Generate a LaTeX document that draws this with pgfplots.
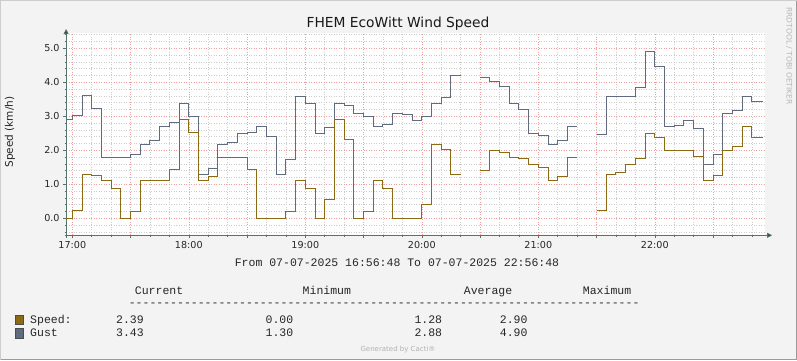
\documentclass[border=0pt]{standalone}
\usepackage{fontspec}
\setmainfont{DejaVu Sans}
\newfontfamily\monofont{Liberation Mono}
\usepackage{pgfplots}
\pgfplotsset{compat=1.18}
\usetikzlibrary{arrows.meta}
\definecolor{speedcol}{RGB}{140,106,20}
\definecolor{gustcol}{RGB}{96,108,126}
\definecolor{bgcol}{RGB}{243,243,243}
\definecolor{majgrid}{RGB}{238,160,160}
\definecolor{mingrid}{RGB}{205,205,205}
\definecolor{axiscol}{RGB}{85,115,105}
\definecolor{arrowcol}{RGB}{40,80,65}
\definecolor{lightborder}{RGB}{205,205,205}
\definecolor{darkborder}{RGB}{155,155,155}
\begin{document}
\begin{tikzpicture}[x=1pt,y=1pt]
\useasboundingbox (0,0) rectangle (797,360);
\fill[bgcol] (0,0) rectangle (797,360);
\draw[lightborder, line width=1pt] (0.5,0.5) -- (0.5,359.5) -- (796.5,359.5);
\draw[darkborder, line width=1pt] (0.5,0.5) -- (796.5,0.5) -- (796.5,359.5);

\begin{axis}[
  anchor=south west, at={(66.1pt,124.7pt)},
  x=1.9417pt, y=34pt,
  xmin=-3.2, xmax=356.8, ymin=-0.5, ymax=5.45,
  axis background/.style={fill=white},
  axis x line=bottom, axis y line=left,
  axis line style={draw=axiscol, line width=0.8pt},
  every outer x axis line/.append style={-{Triangle[length=5pt,width=5pt,fill=arrowcol]}, shorten >=-7pt, shorten <=-1.5pt},
  every outer y axis line/.append style={-{Triangle[length=5pt,width=5pt,fill=arrowcol]}, shorten >=-4pt, shorten <=-3pt},
  xtick={0,30,60,90,120,150,180,210,240,270,300,330},
  xticklabels={17:00,{},18:00,{},19:00,{},20:00,{},21:00,{},22:00,{}},
  minor xtick={10,20,40,50,70,80,100,110,130,140,160,170,190,200,220,230,250,260,280,290,310,320,340,350},
  ytick={0,1,2,3,4,5},
  yticklabels={0.0,1.0,2.0,3.0,4.0,5.0},
  minor ytick={-0.4,-0.2,0.2,0.4,0.6,0.8,1.2,1.4,1.6,1.8,2.2,2.4,2.6,2.8,3.2,3.4,3.6,3.8,4.2,4.4,4.6,4.8,5.2,5.4},
  grid=both,
  major grid style={majgrid, line width=0.5pt, dash pattern=on 1pt off 1.5pt},
  minor grid style={mingrid, line width=0.5pt, dash pattern=on 1pt off 1.5pt},
  tick align=outside,
  major tick length=3pt, minor tick length=1.5pt,
  tick style={axiscol, line width=0.6pt},
  ticklabel style={font=\fontsize{9.6}{11}\selectfont, text=black!85},
  unbounded coords=jump,
]
\addplot[const plot, gustcol, line width=1pt] coordinates {
(-3.2,2.9) (0,3.03) (5,3.6) (10,3.24) (15,1.8) (20,1.8) (25,1.8) (30,1.88) (35,2.18) (40,2.29)
(45,2.71) (50,2.82) (55,3.38) (60,3.0) (65,1.3) (70,1.47) (75,2.18) (80,2.235) (85,2.5) (90,2.53)
(95,2.71) (100,2.41) (105,1.3) (110,1.735) (115,3.59) (120,3.38) (125,2.5) (130,2.68) (135,3.38) (140,3.32)
(145,3.09) (150,3.0) (155,2.71) (160,2.76) (165,3.09) (170,3.06) (175,2.88) (180,3.0) (185,3.38) (190,3.56)
(195,4.2) (200,4.2) (205,nan)
(210,4.15) (215,4.01) (220,3.88) (225,3.38) (230,3.21) (235,2.5) (240,2.44) (245,2.18) (250,2.29) (255,2.71) (260,2.71) (265,nan)
(270,2.47) (275,3.59) (280,3.59) (285,3.59) (290,3.85) (295,4.9) (300,4.47) (305,2.71) (310,2.74) (315,2.88)
(320,2.65) (325,1.59) (330,1.88) (335,3.09) (340,3.18) (345,3.59) (350,3.43) (355.6,3.43)
};
\addplot[const plot, speedcol, line width=1pt] coordinates {
(-3.2,0) (0,0.23) (5,1.3) (10,1.27) (15,1.1) (20,0.88) (25,0) (30,0.2) (35,1.1) (40,1.1)
(45,1.1) (50,1.44) (55,2.9) (60,2.53) (65,1.1) (70,1.24) (75,1.8) (80,1.8) (85,1.8) (90,1.44)
(95,0) (100,0) (105,0) (110,0.2) (115,1.1) (120,0.88) (125,0) (130,0.56) (135,2.9) (140,2.32)
(145,0) (150,0.2) (155,1.1) (160,0.88) (165,0) (170,0) (175,0) (180,0.41) (185,2.18) (190,2.03)
(195,1.3) (200,1.3) (205,nan)
(210,1.41) (215,2.0) (220,1.94) (225,1.8) (230,1.76) (235,1.59) (240,1.5) (245,1.1) (250,1.24) (255,1.8) (260,1.8) (265,nan)
(270,0.23) (275,1.3) (280,1.35) (285,1.59) (290,1.76) (295,2.5) (300,2.38) (305,2.0) (310,2.0) (315,2.0)
(320,1.82) (325,1.1) (330,1.27) (335,2.0) (340,2.12) (345,2.71) (350,2.39) (355.6,2.39)
};
\end{axis}

% title and labels
\node[anchor=base, font=\fontsize{13.8}{16}\selectfont, text=black!90] at (398,332.5) {FHEM EcoWitt Wind Speed};
\node[rotate=90, font=\fontsize{10.5}{12}\selectfont, text=black!85] at (10,228) {Speed (km/h)};
\node[rotate=-90, font=\fontsize{7.6}{9}\selectfont, text=black!28] at (789,304) {RRDTOOL / TOBI OETIKER};
\node[anchor=base, font=\monofont\fontsize{11.5}{13}\selectfont, text=black!85] at (397,93.5) {From 07-07-2025 16:56:48 To 07-07-2025 22:56:48};

% legend table
\begin{scope}[every node/.style={anchor=base west, inner sep=0pt, font=\monofont\fontsize{11.5}{13}\selectfont, text=black!85}]
\node at (134.7,65.5) {Current};
\node at (302.5,65.5) {Minimum};
\node at (463.7,65.5) {Average};
\node at (582.7,65.5) {Maximum};
\node at (128.6,53.5) {--------------------------------------------------------------------------};
\node at (30,37) {Speed:};
\node at (115.9,37) {2.39};
\node at (265.4,37) {0.00};
\node at (414.3,37) {1.28};
\node at (499.7,37) {2.90};
\node at (30,23.5) {Gust};
\node at (115.9,23.5) {3.43};
\node at (265.4,23.5) {1.30};
\node at (414.3,23.5) {2.88};
\node at (499.7,23.5) {4.90};
\end{scope}
\filldraw[fill=speedcol, draw=black!70, line width=0.6pt] (15.5,35.7) rectangle (23.3,45);
\filldraw[fill=gustcol, draw=black!70, line width=0.6pt] (15.5,22) rectangle (23.3,31.3);
\node[font=\fontsize{7}{8}\selectfont, text=black!30] at (398,10) {Generated by Cacti®};
\end{tikzpicture}
\end{document}
